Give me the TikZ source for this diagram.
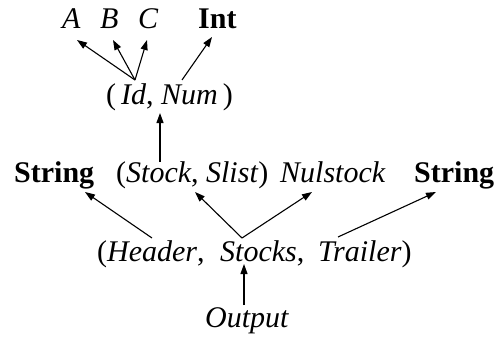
\documentclass[tikz,border=0pt]{standalone}
\usepackage{fontspec}
\setmainfont{Liberation Serif}
\usetikzlibrary{arrows.meta}
\begin{document}
\begin{tikzpicture}[x=1pt,y=-1pt,
  lbl/.style={inner sep=0pt,anchor=base west,font=\fontsize{30}{35}\selectfont},
  link/.style={line width=1.1pt,-{Triangle[length=10pt,width=7pt]}}]
\useasboundingbox (0,0) rectangle (496,340);
% top level
\node[lbl] (a)   at (62,28)  {\textit{A}};
\node[lbl] (b)   at (100,28) {\textit{B}};
\node[lbl] (c)   at (138,28) {\textit{C}};
\node[lbl] (int) at (198,28) {\textbf{Int}};
% pair of identifier and number
\node[lbl] (idnum) at (106,104) {(\,\textit{Id}, \textit{Num}\,)};
% middle row
\node[lbl] (strl)  at (14,182)  {\textbf{String}};
\node[lbl] (stsl)  at (116,182) {(\textit{Stock}, \textit{Slist})};
\node[lbl] (nul)   at (280,182) {\textit{Nulstock}};
\node[lbl] (strr)  at (414,182) {\textbf{String}};
% record row
\node[lbl] (hdr)   at (97,261)  {(\textit{Header},};
\node[lbl] (stk)   at (220,261) {\textit{Stocks},};
\node[lbl] (trl)   at (318,261) {\textit{Trailer})};
\node[lbl] (out)   at (205,327) {\textit{Output}};
% connector end points
\coordinate (o-up)   at (244,305);
\coordinate (stk-in) at (244,264);
\coordinate (hdr-up) at (152,238);
\coordinate (stk-up) at (242,238);
\coordinate (trl-up) at (338,237);
\coordinate (stock)  at (160,162);
\coordinate (id)     at (135,80);
\coordinate (num)    at (182,80);
% connectors
\draw[link] (o-up) -- (stk-in);
\draw[link] (hdr-up) -- (85,192);
\draw[link] (stk-up) -- (195,192);
\draw[link] (stk-up) -- (312,192);
\draw[link] (trl-up) -- (436,192);
\draw[link] (stock) -- (160,113);
\draw[link] (id) -- (77,40);
\draw[link] (id) -- (113,40);
\draw[link] (id) -- (147,40);
\draw[link] (num) -- (212,37);
\end{tikzpicture}
\end{document}
